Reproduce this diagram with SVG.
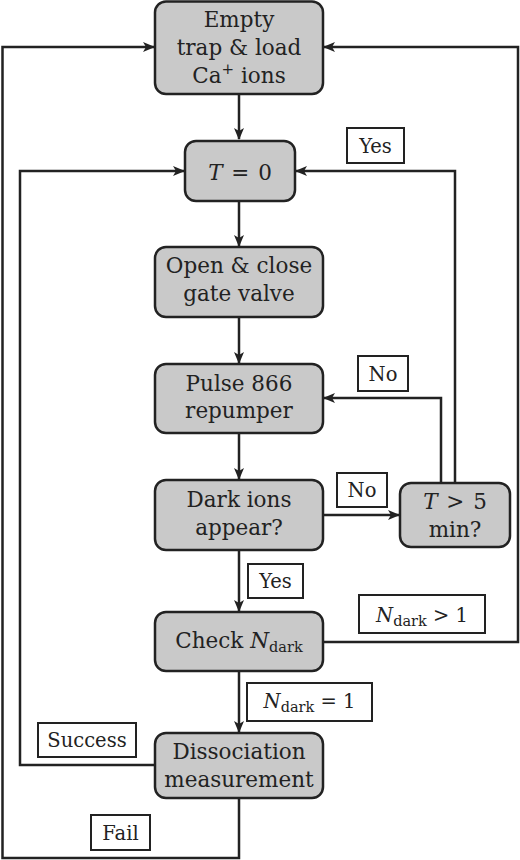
<svg xmlns="http://www.w3.org/2000/svg" width="520" height="860" viewBox="0 0 520 860">
<defs>
<marker id="arr" viewBox="0 0 12 10" refX="11" refY="5" markerWidth="12" markerHeight="10" markerUnits="userSpaceOnUse" orient="auto">
<path d="M0,0 L12,5 L0,10 L3,5 Z" fill="#222"/>
</marker>
<style>
.node rect{fill:#c9c9c9;stroke:#222;stroke-width:2.5}
.lab rect{fill:#fff;stroke:#222;stroke-width:2}
text{font-family:"DejaVu Serif","Liberation Serif",serif;fill:#222;text-anchor:middle}
.node text{font-size:21.5px}
.lab text{font-size:19.5px}
.m{font-style:italic}
.sub{font-size:14.5px;font-style:normal}
#connectors path{fill:none;stroke:#222;stroke-width:2.5}
</style>
</defs>
<rect width="520" height="860" fill="#fff"/>
<g id="connectors">
<path d="M239,94 V139" marker-end="url(#arr)"/>
<path d="M239,201 V246" marker-end="url(#arr)"/>
<path d="M239,317 V363" marker-end="url(#arr)"/>
<path d="M239,433 V479" marker-end="url(#arr)"/>
<path d="M323,515 H399" marker-end="url(#arr)"/>
<path d="M441,483 V398 H324" marker-end="url(#arr)"/>
<path d="M455,483 V171 H296" marker-end="url(#arr)"/>
<path d="M239,550 V611" marker-end="url(#arr)"/>
<path d="M323,642 H518 V47 H324" marker-end="url(#arr)"/>
<path d="M239,671 V732" marker-end="url(#arr)"/>
<path d="M155,765 H20 V171 H184" marker-end="url(#arr)"/>
<path d="M239,798 V858 H2.5 V47 H154" marker-end="url(#arr)"/>
</g>
<g id="n-empty" class="node">
<rect x="155" y="1.5" width="168" height="92.5" rx="11"/>
<text x="239" y="27">Empty</text>
<text x="239" y="55">trap &amp; load</text>
<text x="239" y="83">Ca<tspan dy="-9" font-size="15">+</tspan><tspan dy="9"> ions</tspan></text>
</g>
<g id="n-t0" class="node">
<rect x="185" y="141" width="110" height="60" rx="11"/>
<text x="240" y="180"><tspan class="m">T</tspan><tspan dx="2"> = </tspan><tspan dx="2">0</tspan></text>
</g>
<g id="n-gate" class="node">
<rect x="155" y="247" width="168" height="70" rx="11"/>
<text x="239" y="273">Open &amp; close</text>
<text x="239" y="301">gate valve</text>
</g>
<g id="n-pulse" class="node">
<rect x="155" y="364" width="168" height="69" rx="11"/>
<text x="239" y="391">Pulse 866</text>
<text x="239" y="418">repumper</text>
</g>
<g id="n-dark" class="node">
<rect x="155" y="480" width="168" height="70" rx="11"/>
<text x="239" y="507">Dark ions</text>
<text x="239" y="535">appear?</text>
</g>
<g id="n-t5" class="node">
<rect x="400" y="483" width="110" height="64" rx="11"/>
<text x="455" y="509"><tspan class="m">T</tspan><tspan dx="2"> &gt; </tspan><tspan dx="2">5</tspan></text>
<text x="455" y="537">min?</text>
</g>
<g id="n-check" class="node">
<rect x="155" y="612" width="168" height="59" rx="11"/>
<text x="239" y="648">Check <tspan class="m">N</tspan><tspan class="sub" dy="4">dark</tspan></text>
</g>
<g id="n-diss" class="node">
<rect x="155" y="733" width="168" height="65" rx="11"/>
<text x="239" y="759">Dissociation</text>
<text x="239" y="787">measurement</text>
</g>
<g id="l-yes1" class="lab">
<rect x="347" y="128" width="57" height="35"/>
<text x="375.5" y="153">Yes</text>
</g>
<g id="l-no1" class="lab">
<rect x="358" y="356" width="50" height="35"/>
<text x="383" y="381">No</text>
</g>
<g id="l-no2" class="lab">
<rect x="337" y="473" width="50" height="34"/>
<text x="362" y="497">No</text>
</g>
<g id="l-yes2" class="lab">
<rect x="248" y="564" width="55" height="34"/>
<text x="275.5" y="588">Yes</text>
</g>
<g id="l-ngt1" class="lab">
<rect x="359" y="595" width="126" height="38"/>
<text x="422" y="622"><tspan class="m">N</tspan><tspan class="sub" dy="4">dark</tspan><tspan dy="-4"> &gt; 1</tspan></text>
</g>
<g id="l-neq1" class="lab">
<rect x="247" y="683" width="125" height="38"/>
<text x="309.5" y="708"><tspan class="m">N</tspan><tspan class="sub" dy="4">dark</tspan><tspan dy="-4"> = 1</tspan></text>
</g>
<g id="l-success" class="lab">
<rect x="38" y="723" width="98" height="34"/>
<text x="87" y="747">Success</text>
</g>
<g id="l-fail" class="lab">
<rect x="91" y="815" width="59" height="35"/>
<text x="120.5" y="840">Fail</text>
</g>
</svg>
